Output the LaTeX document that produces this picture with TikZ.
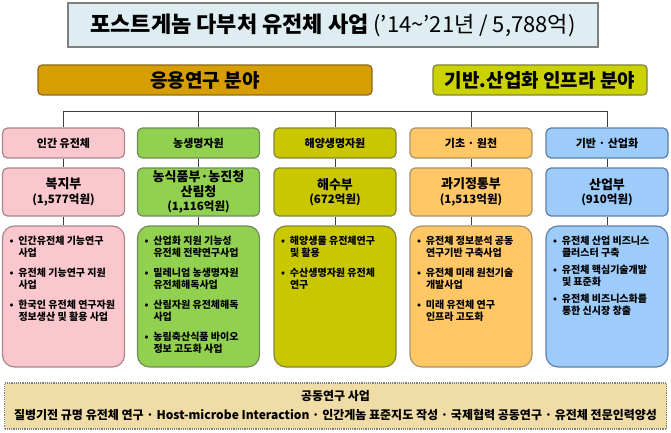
\documentclass[tikz,border=0pt]{standalone}
\usepackage{fontspec}
\setmainfont{Noto Sans CJK KR}
\usetikzlibrary{positioning}

\definecolor{titlefill}{HTML}{DDEDF1}
\definecolor{appfill}{HTML}{D69E00}
\definecolor{appline}{HTML}{8C6A1E}
\definecolor{basefill}{HTML}{CBD200}
\definecolor{baseline}{HTML}{7F8236}
\definecolor{pinkfill}{HTML}{F9C7CD}
\definecolor{pinkline}{HTML}{A8868B}
\definecolor{greenfill}{HTML}{92D050}
\definecolor{greenline}{HTML}{6F8C58}
\definecolor{olivefill}{HTML}{C9C800}
\definecolor{oliveline}{HTML}{85853A}
\definecolor{orangefill}{HTML}{FFC765}
\definecolor{orangeline}{HTML}{A8926A}
\definecolor{bluefill}{HTML}{9DCBFA}
\definecolor{blueline}{HTML}{5D80A6}
\definecolor{jointfill}{HTML}{F0DCA6}

\newcommand{\dotitem}{\makebox[0.9em][l]{•}}
\newcommand{\dotpad}{\hspace*{0.9em}}

\begin{document}
\begin{tikzpicture}
[x=1pt, y=-1pt, line width=1.2pt,
box/.style={draw, rounded corners=5pt, minimum width=122pt, inner sep=1pt, align=center},
headbox/.style={box, minimum height=30pt, font=\bfseries\fontsize{11}{13}\selectfont},
deptbox/.style={box, minimum height=48pt, font=\bfseries\fontsize{13}{14.5}\selectfont},
taskbox/.style={box, minimum height=141pt, rounded corners=12pt},
tasklist/.style={anchor=north west, align=left, inner sep=0pt, font=\bfseries\fontsize{10}{12}\selectfont},
fieldbar/.style={draw, rounded corners=4pt, minimum height=30pt, font=\bfseries\fontsize{19}{19}\selectfont},
link/.style={draw=black!75, line width=1pt}]

\useasboundingbox (0,0) rectangle (671,433);

% title and fields
\node[draw=gray, fill=titlefill, minimum width=530pt, minimum height=44pt] (title) at (333,25)
  {\fontsize{22}{22}\selectfont\textbf{포스트게놈 다부처 유전체 사업} ('14{\char"7E}'21년 / 5,788억)};
\node[fieldbar, draw=appline, fill=appfill, minimum width=334pt] (applied) at (205,80) {응용연구 분야};
\node[fieldbar, draw=baseline, fill=basefill, minimum width=214pt] (infra) at (540,80) {기반.산업화 인프라 분야};

% column heads
\node[headbox, draw=pinkline, fill=pinkfill] (head1) at (63.5,143) {인간 유전체};
\node[headbox, draw=greenline, fill=greenfill] (head2) at (198.5,143) {농생명자원};
\node[headbox, draw=oliveline, fill=olivefill] (head3) at (335,143) {해양생명자원};
\node[headbox, draw=orangeline, fill=orangefill] (head4) at (471,143) {기초 · 원천};
\node[headbox, draw=blueline, fill=bluefill] (head5) at (607,143) {기반 · 산업화};

% ministries
\node[deptbox, draw=pinkline, fill=pinkfill] (dept1) at (63.5,192) {복지부\\{\fontsize{11.5}{13.5}\selectfont(1,577억원)}};
\node[deptbox, draw=greenline, fill=greenfill] (dept2) at (198.5,192) {농식품부·농진청\\산림청\\{\fontsize{11.5}{13.5}\selectfont(1,116억원)}};
\node[deptbox, draw=oliveline, fill=olivefill] (dept3) at (335,192) {해수부\\{\fontsize{11.5}{13.5}\selectfont(672억원)}};
\node[deptbox, draw=orangeline, fill=orangefill] (dept4) at (471,192) {과기정통부\\{\fontsize{11.5}{13.5}\selectfont(1,513억원)}};
\node[deptbox, draw=blueline, fill=bluefill] (dept5) at (607,192) {산업부\\{\fontsize{11.5}{13.5}\selectfont(910억원)}};

% programmes
\node[taskbox, draw=pinkline, fill=pinkfill] (task1) at (63.5,296.5) {};
\node[taskbox, draw=greenline, fill=greenfill] (task2) at (198.5,296.5) {};
\node[taskbox, draw=oliveline, fill=olivefill] (task3) at (335,296.5) {};
\node[taskbox, draw=orangeline, fill=orangefill] (task4) at (471,296.5) {};
\node[taskbox, draw=blueline, fill=bluefill] (task5) at (607,296.5) {};

\node[tasklist] (list1) at ([xshift=7pt,yshift=-10pt]task1.north west)
  {\dotitem 인간유전체 기능연구\\\dotpad 사업\\[8pt]
   \dotitem 유전체 기능연구 지원\\\dotpad 사업\\[8pt]
   \dotitem 한국인 유전체 연구자원\\\dotpad 정보생산 및 활용 사업};
\node[tasklist] (list2) at ([xshift=7pt,yshift=-10pt]task2.north west)
  {\dotitem 산업화 지원 기능성\\\dotpad 유전체 전략연구사업\\[8pt]
   \dotitem 밀레니엄 농생명자원\\\dotpad 유전체해독사업\\[8pt]
   \dotitem 산림자원 유전체해독\\\dotpad 사업\\[8pt]
   \dotitem 농림축산식품 바이오\\\dotpad 정보 고도화 사업};
\node[tasklist] (list3) at ([xshift=7pt,yshift=-10pt]task3.north west)
  {\dotitem 해양생물 유전체연구\\\dotpad 및 활용\\[8pt]
   \dotitem 수산생명자원 유전체\\\dotpad 연구};
\node[tasklist] (list4) at ([xshift=7pt,yshift=-10pt]task4.north west)
  {\dotitem 유전체 정보분석 공동\\\dotpad 연구기반 구축사업\\[8pt]
   \dotitem 유전체 미래 원천기술\\\dotpad 개발사업\\[8pt]
   \dotitem 미래 유전체 연구\\\dotpad 인프라 고도화};
\node[tasklist] (list5) at ([xshift=7pt,yshift=-10pt]task5.north west)
  {\dotitem 유전체 산업 비즈니스\\\dotpad 클러스터 구축\\[5pt]
   \dotitem 유전체 핵심기술개발\\\dotpad 및 표준화\\[5pt]
   \dotitem 유전체 비즈니스화를\\\dotpad 통한 신시장 창출};

% joint research
\node[draw=gray, densely dotted, fill=jointfill, minimum width=662pt, minimum height=46pt, align=center,
  font=\bfseries\fontsize{12}{19}\selectfont] (joint) at (335.5,406)
  {{\fontsize{12}{13}\selectfont 공동연구 사업}\\
   질병기전 규명 유전체 연구 · Host-microbe Interaction · 인간게놈 표준지도 작성 · 국제협력 공동연구 · 유전체 전문인력양성};

% connectors
\draw[link] (head1.north) -- ++(0,-16) -| (head5.north);
\foreach \i in {2,3,4} {
    \draw[link] (head\i.north) -- ++(0,-16);
}
\foreach \i in {1,...,5} {
    \draw[link] (head\i) -- (dept\i) -- (task\i);
}

\end{tikzpicture}
\end{document}
